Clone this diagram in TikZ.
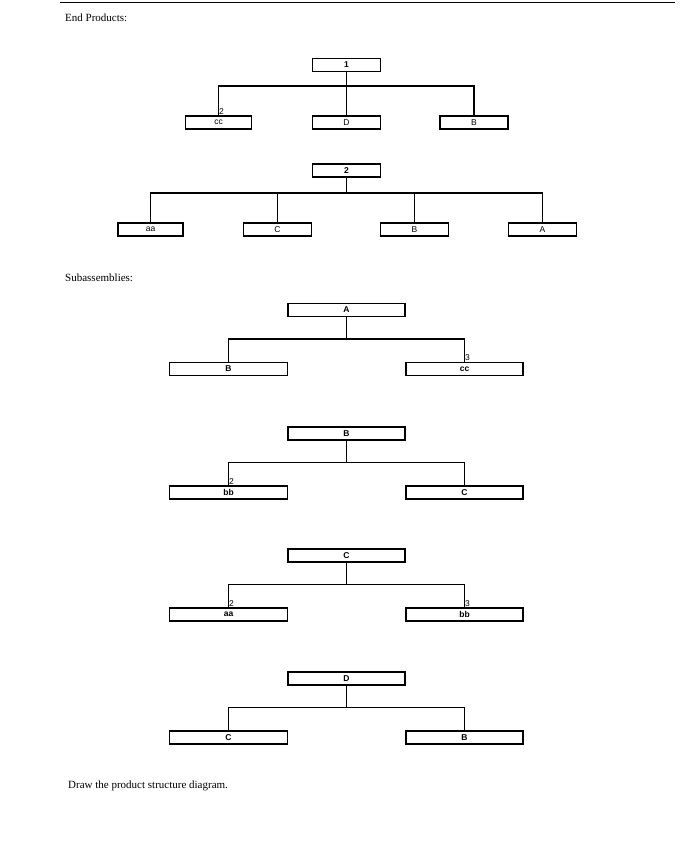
\documentclass[tikz,border=0pt]{standalone}
\usepackage{fontspec}
\setmainfont{Liberation Serif}
\newfontfamily\lsans{Liberation Sans}
\begin{document}
\begin{tikzpicture}[x=1pt,y=-1pt,
  bx/.style={draw,line width=1.8pt,inner sep=0pt,minimum height=13pt,font=\lsans\fontsize{8.5}{9}\selectfont},
  bbx/.style={bx,font=\lsans\bfseries\fontsize{8.5}{9}\selectfont},
  ln/.style={line width=1.8pt},
  qty/.style={font=\lsans\fontsize{8.5}{9}\selectfont,inner sep=0.5pt},
  hd/.style={font=\fontsize{11}{13}\selectfont,anchor=west,inner sep=0pt}]
\useasboundingbox (0,0) rectangle (695,841);
\draw[line width=1pt] (60,2) -- (675,2);
\node[hd] (h1) at (65,18) {End Products:};
% tree 1
\node[bbx,minimum width=68pt] (p1) at (346.5,65) {1};
\node[bx,minimum width=66pt] (c1a) at (218.5,122.5) {cc};
\node[bx,minimum width=68pt] (c1b) at (346.5,122.5) {D};
\node[bx,minimum width=68pt] (c1c) at (474,122.5) {B};
\foreach \c in {c1a,c1b,c1c}{\draw[ln] (p1.south) -- (p1.south |- 0,86) -| (\c.north);}
\node[qty,anchor=south west] at (c1a.north) {2};
% tree 2
\node[bbx,minimum width=68pt] (p2) at (346.5,170.5) {2};
\node[bx,minimum width=65pt] (c2a) at (150.5,229.5) {aa};
\node[bx,minimum width=68pt] (c2b) at (277.5,229.5) {C};
\node[bx,minimum width=68pt] (c2c) at (414.5,229.5) {B};
\node[bx,minimum width=68pt] (c2d) at (542.5,229.5) {A};
\foreach \c in {c2a,c2b,c2c,c2d}{\draw[ln] (p2.south) -- (p2.south |- 0,193) -| (\c.north);}
\node[hd] (h2) at (65,278) {Subassemblies:};
% subassembly trees
\newcommand{\subtree}[8]{%
  \node[bbx,minimum width=117pt] (#1p) at (346.5,#2) {#3};
  \node[bbx,minimum width=118pt] (#1l) at (228.5,#2+59) {#4};
  \node[bbx,minimum width=117pt] (#1r) at (464.5,#2+59) {#5};
  \draw[ln] (#1p.south) -- (#1p.south |- 0,#2+29) -| (#1l.north);
  \draw[ln] (#1p.south) -- (#1p.south |- 0,#2+29) -| (#1r.north);
  \node[qty,anchor=south west] at (#1l.north) {#6};
  \node[qty,anchor=south west] at (#1r.north) {#7};
}
\subtree{a}{310}{A}{B}{cc}{}{3}{}
\subtree{b}{433.5}{B}{bb}{C}{2}{}{}
\subtree{c}{555.5}{C}{aa}{bb}{2}{3}{}
\subtree{d}{678.5}{D}{C}{B}{}{}{}
\node[hd] (h3) at (68,786) {Draw the product structure diagram.};
\end{tikzpicture}
\end{document}
